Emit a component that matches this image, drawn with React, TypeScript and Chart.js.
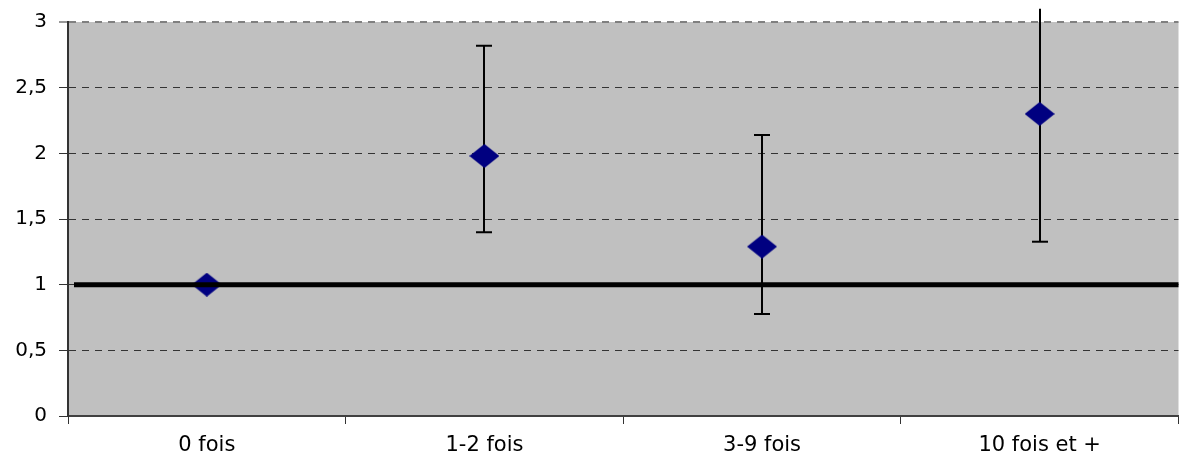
import React, { useEffect, useRef } from "react";
import { Chart, registerables } from "chart.js";

Chart.register(...registerables);

const categories = ["0 fois", "1-2 fois", "3-9 fois", "10 fois et +"];
const estimates = [1, 1.98, 1.29, 2.3];
const lowerBounds = [null, 1.4, 0.777, 1.327];
const upperBounds = [null, 2.82, 2.14, 3.1];
const yTicks = [0, 0.5, 1, 1.5, 2, 2.5, 3];
const referenceValue = 1;

function makeDiamond(w: number, h: number, color: string) {
  const c = document.createElement("canvas");
  c.width = w;
  c.height = h;
  const ctx = c.getContext("2d")!;
  ctx.fillStyle = color;
  ctx.beginPath();
  ctx.moveTo(w / 2, 0);
  ctx.lineTo(w, h / 2);
  ctx.lineTo(w / 2, h);
  ctx.lineTo(0, h / 2);
  ctx.closePath();
  ctx.fill();
  return c;
}

const backgroundPlugin = {
  id: "plotBg",
  beforeDraw(chart: any) {
    const { ctx, chartArea } = chart;
    ctx.save();
    ctx.fillStyle = "#C0C0C0";
    ctx.fillRect(chartArea.left, chartArea.top, chartArea.right - chartArea.left, chartArea.bottom - chartArea.top);
    ctx.restore();
  },
};

const errorBarPlugin = {
  id: "errorBars",
  beforeDatasetsDraw(chart: any) {
    const { ctx, scales } = chart;
    const xs = scales.x;
    const ys = scales.y;
    ctx.save();
    ctx.strokeStyle = "#000";
    ctx.lineWidth = 2;
    categories.forEach((_, i) => {
      const lo = lowerBounds[i];
      const hi = upperBounds[i];
      if (lo == null || hi == null) return;
      const x = Math.round(xs.getPixelForValue(i));
      const yLo = ys.getPixelForValue(lo);
      const yHi = ys.getPixelForValue(hi);
      ctx.beginPath();
      ctx.moveTo(x, yLo);
      ctx.lineTo(x, yHi);
      ctx.stroke();
      const half = 8;
      ctx.beginPath();
      ctx.moveTo(x - half, yLo);
      ctx.lineTo(x + half, yLo);
      if (hi <= ys.max) {
        ctx.moveTo(x - half, yHi);
        ctx.lineTo(x + half, yHi);
      }
      ctx.stroke();
    });
    ctx.restore();
  },
};

const referencePlugin = {
  id: "refLine",
  afterDatasetsDraw(chart: any) {
    const { ctx, scales, chartArea } = chart;
    const y = scales.y.getPixelForValue(referenceValue);
    ctx.save();
    ctx.strokeStyle = "#000";
    ctx.lineWidth = 5;
    ctx.beginPath();
    ctx.moveTo(chartArea.left + 6, y);
    ctx.lineTo(chartArea.right, y);
    ctx.stroke();
    ctx.restore();
  },
};

export default function App() {
  const ref = useRef<HTMLCanvasElement | null>(null);

  useEffect(() => {
    if (!ref.current) return;
    document.body.style.overflow = "hidden";
    const diamond = makeDiamond(30, 24, "#000080");
    const chart = new Chart(ref.current, {
      type: "line",
      data: {
        labels: categories,
        datasets: [
          {
            data: estimates,
            showLine: false,
            pointStyle: diamond as any,
            pointRadius: 0.5,
            pointHoverRadius: 0.5,
            pointBorderWidth: 0,
            borderWidth: 0,
            backgroundColor: "#000080",
            borderColor: "#000080",
            clip: false as any,
          },
        ],
      },
      options: {
        animation: false,
        responsive: false,
        layout: { padding: { top: 22, left: 0, right: 0, bottom: 0 } },
        plugins: { legend: { display: false }, tooltip: { enabled: false } },
        scales: {
          x: {
            offset: true,
            afterFit: (s: any) => {
              s.height = 43;
              s.paddingLeft = 0;
              s.paddingRight = 0;
            },
            ticks: {
              color: "#000",
              font: { family: "DejaVu Sans", size: 21 },
              padding: 9,
              maxRotation: 0,
              autoSkip: false,
            },
            grid: { offset: true, drawOnChartArea: false, tickLength: 8, color: "#333", lineWidth: 1 },
            border: { color: "#404040", width: 2 },
          },
          y: {
            min: 0,
            max: 3,
            afterBuildTicks: (s: any) => {
              s.ticks = yTicks.map((v) => ({ value: v }));
            },
            afterFit: (s: any) => {
              s.width = 68;
              s.paddingTop = 0;
              s.paddingBottom = 0;
            },
            ticks: {
              color: "#000",
              font: { family: "DejaVu Sans", size: 20 },
              padding: 12,
              callback: (v: any) => String(v).replace(".", ","),
            },
            grid: {
              color: (c: any) => (c.index === yTicks.length - 1 ? "#808080" : "#333"),
              lineWidth: (c: any) => (c.index === yTicks.length - 1 ? 2 : 1),
              tickLength: 9,
              tickColor: "#333",
              tickWidth: 1,
            },
            border: { color: "#333", width: 2, dash: [7, 6] },
          },
        },
      },
      plugins: [backgroundPlugin, errorBarPlugin, referencePlugin],
    });
    return () => chart.destroy();
  }, []);

  return (
    <div
      style={{
        position: "absolute",
        left: 0,
        top: 0,
        width: 1179,
        height: 459,
        overflow: "hidden",
        background: "#fff",
      }}
    >
      <canvas ref={ref} width={1179} height={459} style={{ display: "block" }} />
    </div>
  );
}
